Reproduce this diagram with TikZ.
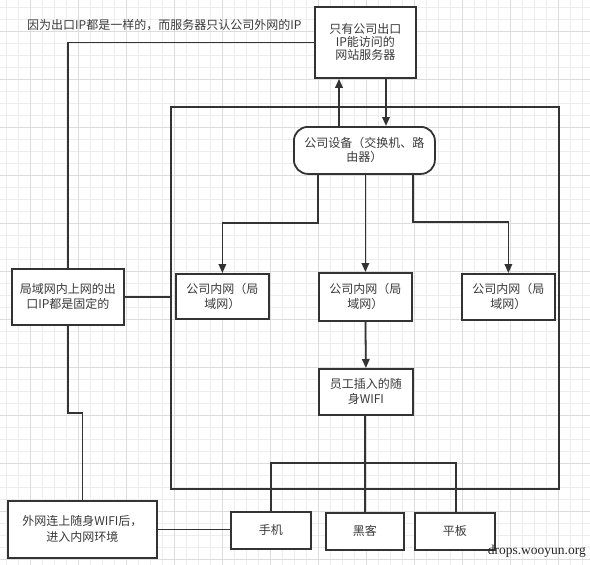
\documentclass[tikz,border=0pt]{standalone}
\usepackage{fontspec}
\newfontfamily\cjk{Noto Sans CJK SC}
\setmainfont{Liberation Serif}
\usetikzlibrary{arrows.meta,calc}
\definecolor{ln}{HTML}{333333}
\definecolor{tx}{HTML}{3A3A3A}
\definecolor{gminor}{HTML}{EDEDED}
\definecolor{gmajor}{HTML}{DCDCDC}
\begin{document}
\begin{tikzpicture}[x=1pt,y=-1pt,
  box/.style={draw=ln,line width=1.8pt,fill=white,inner sep=0pt,anchor=north west,
    align=center,text=tx,font=\cjk\fontsize{12}{15}\selectfont},
  wire/.style={draw=ln,line width=1.8pt},
  arr/.style={wire,-{Triangle[length=9pt,width=7.5pt]}}]
\useasboundingbox (0,0) rectangle (590,565);
\fill[white] (0,0) rectangle (590,565);
% grid
\foreach \g in {6,18,...,590} {\draw[gminor,line width=0.6pt] (\g,0) -- (\g,565);}
\foreach \g in {7,19,...,565} {\draw[gminor,line width=0.6pt] (0,\g) -- (590,\g);}
\foreach \g in {30,78,...,590} {\draw[gmajor,line width=0.6pt] (\g,0) -- (\g,565);}
\foreach \g in {31,79,...,565} {\draw[gmajor,line width=0.6pt] (0,\g) -- (590,\g);}

% container
\node[box,fill=none,minimum width=388pt,minimum height=382pt] (container) at (170,106) {};

% nodes
\node[box,minimum width=101pt,minimum height=71pt,font=\cjk\fontsize{12}{13}\selectfont] (server) at (314,6) {只有公司出口\\IP能访问的\\网站服务器};
\node[box,rounded corners=14pt,minimum width=141pt,minimum height=47pt,font=\cjk\fontsize{12}{14}\selectfont] (dev) at (293,126) {公司设备（交换机、路\\由器）};
\node[box,minimum width=93pt,minimum height=45pt] (lan1) at (175,273) {公司内网（局\\域网）};
\node[box,minimum width=93pt,minimum height=48pt] (lan2) at (318,272) {公司内网（局\\域网）};
\node[box,minimum width=93pt,minimum height=46pt] (lan3) at (461,273) {公司内网（局\\域网）};
\node[box,minimum width=94pt,minimum height=46pt] (wifi) at (318,368) {员工插入的随\\身WIFI};
\node[box,minimum width=112pt,minimum height=56pt] (fixed) at (11,268) {局域网内上网的出\\口IP都是固定的};
\node[box,minimum width=149pt,minimum height=57pt,font=\cjk\fontsize{12}{16}\selectfont] (outside) at (7,500) {外网连上随身WIFI后，\\进入内网环境};
\node[box,minimum width=80pt,minimum height=37pt] (phone) at (230,511) {手机};
\node[box,minimum width=78pt,minimum height=37pt] (hacker) at (325,512) {黑客};
\node[box,minimum width=80pt,minimum height=37pt] (tablet) at (414,512) {平板};

\node[anchor=west,inner sep=0pt,text=tx,font=\cjk\fontsize{12}{15}\selectfont] (note) at (27,25) {因为出口IP都是一样的，而服务器只认公司外网的IP};
\node[anchor=east,inner sep=0pt,text=black!85,font=\fontsize{13.5}{15}\selectfont] (wm) at (586,551) {drops.wooyun.org};

% helper coordinates
\coordinate (upx) at (339,0);
\coordinate (dnx) at (386,0);
\coordinate (b1) at (318,223);
\coordinate (b3) at (413,222);
\coordinate (bar) at (365,463);
\coordinate (tabx) at (456,463);
\coordinate (k1) at (82,413);

% connectors
\draw[arr] (dev.north -| upx) -- (server.south -| upx);
\draw[arr] (server.south -| dnx) -- (dev.north -| dnx);
\draw[arr] (dev.south -| b1) -- (b1) -| (lan1.north);
\draw[arr] (dev.south -| lan2.north) -- (lan2.north);
\draw[arr] (dev.south -| b3) -- (b3) -| (lan3.north);
\draw[arr] (lan2.south) -- (wifi.north);
\draw[wire] (wifi.south -| bar) -- (bar);
\draw[wire] (phone.north) |- (tabx) -- (tablet.north -| tabx);
\draw[wire] (bar) -- (hacker.north -| bar);
\draw[wire] (fixed.east) -- (container.west |- fixed.east);
\draw[wire] (server.west) -| (fixed.north);
\draw[wire] (fixed.south) |- (k1) -| (outside.north);
\draw[wire] (outside.east) -- (outside.east -| phone.west);
\end{tikzpicture}
\end{document}
